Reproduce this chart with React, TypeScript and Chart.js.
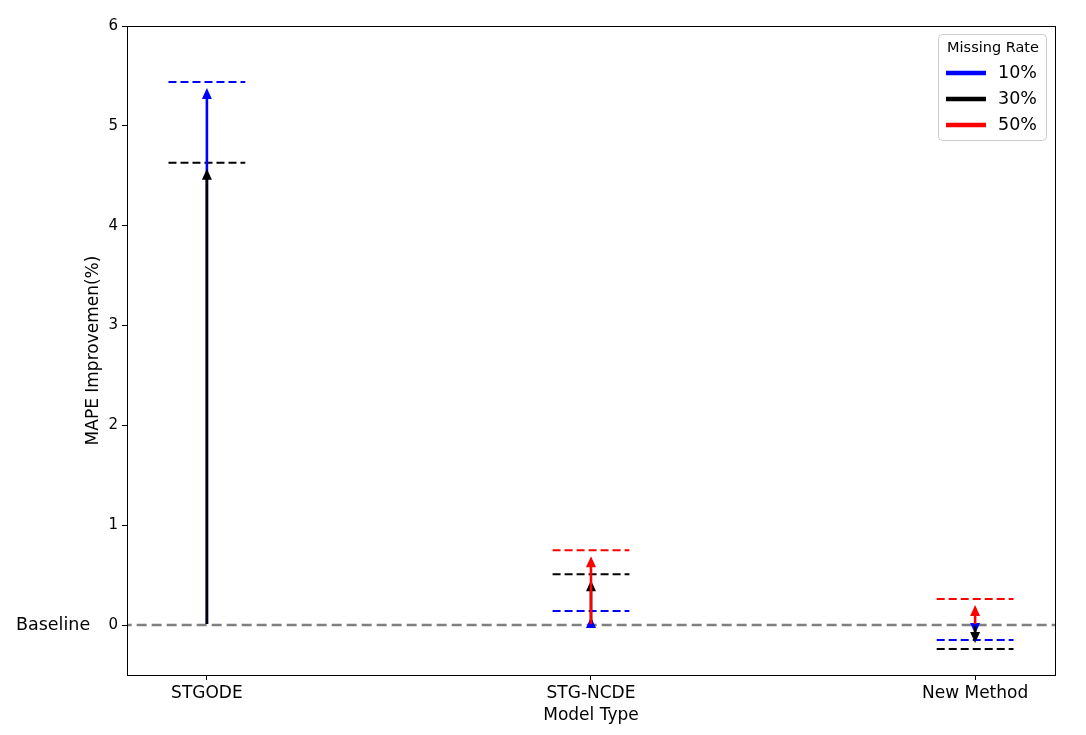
import React, { useEffect, useRef } from "react";
import { Chart, registerables } from "chart.js";

Chart.register(...registerables);

const categories = ["STGODE", "STG-NCDE", "New Method"];
const seriesLabels = ["10%", "30%", "50%"];
const seriesColors = ["#0000ff", "#000000", "#ff0000"];
const rate10 = [5.44, 0.14, -0.15];
const rate30 = [4.63, 0.51, -0.24];
const rate50: (number | null)[] = [null, 0.75, 0.26];
const seriesValues: (number | null)[][] = [rate10, rate30, rate50];
const yTicks = [0, 1, 2, 3, 4, 5, 6];

const FONT = "'DejaVu Sans', sans-serif";

export default function App() {
  const ref = useRef<HTMLCanvasElement>(null);
  useEffect(() => {
    document.body.style.margin = "0";
    const canvas = ref.current!;
    const half = 0.1;
    const datasets: any[] = seriesValues.map((vals, s) => {
      const data: any[] = [];
      vals.forEach((v, i) => {
        if (v === null) return;
        data.push({ x: i - half, y: v });
        data.push({ x: i + half, y: v });
        data.push({ x: i + 0.5, y: null });
      });
      return {
        label: seriesLabels[s],
        data,
        borderColor: seriesColors[s],
        backgroundColor: seriesColors[s],
        borderWidth: 2,
        borderDash: [8, 4],
        pointRadius: 0,
        showLine: true,
        spanGaps: false,
      };
    });
    datasets.push({
      label: "Baseline",
      data: [{ x: -0.3, y: 0 }, { x: 2.3, y: 0 }],
      borderColor: "#808080",
      borderWidth: 2.5,
      borderDash: [10, 5],
      pointRadius: 0,
      showLine: true,
    });

    const arrowPlugin = {
      id: "arrows",
      afterDatasetsDraw(chart: any) {
        const ctx = chart.ctx;
        const xs = chart.scales.x;
        const ys = chart.scales.y;
        const ca = chart.chartArea;
        ctx.save();
        ctx.beginPath();
        ctx.rect(ca.left, ca.top, ca.right - ca.left, ca.bottom - ca.top);
        ctx.clip();
        seriesValues.forEach((vals, s) => {
          vals.forEach((v, i) => {
            if (v === null) return;
            const x = xs.getPixelForValue(i);
            const y0 = ys.getPixelForValue(0);
            const y1 = ys.getPixelForValue(v);
            const dir = y1 < y0 ? -1 : 1;
            const start = y0 + dir * 1;
            const tip = y1 - dir * 6;
            const headLen = 11;
            const headW = 5;
            ctx.strokeStyle = seriesColors[s];
            ctx.fillStyle = seriesColors[s];
            ctx.lineWidth = 2.6;
            ctx.setLineDash([]);
            ctx.beginPath();
            ctx.moveTo(x, start);
            ctx.lineTo(x, tip - dir * headLen * 0.5);
            ctx.stroke();
            ctx.beginPath();
            ctx.moveTo(x, tip);
            ctx.lineTo(x - headW, tip - dir * headLen);
            ctx.lineTo(x + headW, tip - dir * headLen);
            ctx.closePath();
            ctx.fill();
          });
        });
        ctx.restore();
      },
      afterDraw(chart: any) {
        const ctx = chart.ctx;
        const ca = chart.chartArea;
        const ys = chart.scales.y;
        ctx.save();
        ctx.setLineDash([]);
        ctx.strokeStyle = "#000";
        ctx.lineWidth = 1;
        ctx.strokeRect(Math.round(ca.left) + 0.5, Math.round(ca.top) + 0.5, Math.round(ca.right - ca.left), Math.round(ca.bottom - ca.top));
        // Baseline label
        ctx.fillStyle = "#000";
        ctx.font = `17.5px ${FONT}`;
        ctx.textAlign = "left";
        ctx.textBaseline = "middle";
        ctx.fillText("Baseline", 16, ys.getPixelForValue(0));
        // legend
        const lx = 938, ly = 34, lw = 108, lh = 106;
        ctx.fillStyle = "rgba(255,255,255,0.8)";
        ctx.strokeStyle = "#cccccc";
        ctx.lineWidth = 1;
        ctx.beginPath();
        (ctx as any).roundRect(lx + 0.5, ly + 0.5, lw, lh, 4);
        ctx.fill();
        ctx.stroke();
        ctx.fillStyle = "#000";
        ctx.font = `14.5px ${FONT}`;
        ctx.textAlign = "center";
        ctx.fillText("Missing Rate", lx + lw / 2 + 1, ly + 14);
        seriesLabels.forEach((lab, s) => {
          const yy = ly + 39 + s * 26;
          ctx.strokeStyle = seriesColors[s];
          ctx.lineWidth = 4.5;
          ctx.beginPath();
          ctx.moveTo(lx + 8, yy);
          ctx.lineTo(lx + 48, yy);
          ctx.stroke();
          ctx.fillStyle = "#000";
          ctx.font = `17.5px ${FONT}`;
          ctx.textAlign = "left";
          ctx.fillText(lab, lx + 60, yy);
        });
        ctx.restore();
      },
    };

    const chart = new Chart(canvas, {
      type: "scatter",
      data: { datasets },
      plugins: [arrowPlugin],
      options: {
        animation: false,
        responsive: false,
        layout: { padding: { left: 83, right: 31, top: 26, bottom: 9 } },
        plugins: { legend: { display: false }, tooltip: { enabled: false } },
        scales: {
          x: {
            type: "linear",
            min: -0.208,
            max: 2.208,
            afterBuildTicks: (scale: any) => {
              scale.ticks = categories.map((_, i) => ({ value: i }));
            },
            afterFit: (scale: any) => {
              scale.height = 51;
            },
            ticks: {
              color: "#000",
              font: { family: FONT, size: 17 },
              padding: 3,
              maxRotation: 0,
              callback: (v: any) => categories[v] ?? "",
            },
            grid: { drawOnChartArea: false, tickLength: 5, color: "#000" },
            border: { display: false },
            title: {
              display: true,
              text: "Model Type",
              color: "#000",
              font: { family: FONT, size: 17 },
              padding: { top: 0, bottom: 0 },
            },
          },
          y: {
            type: "linear",
            min: -0.5,
            max: 6,
            afterBuildTicks: (scale: any) => {
              scale.ticks = yTicks.map((v) => ({ value: v }));
            },
            afterFit: (scale: any) => {
              scale.width = 44;
            },
            ticks: {
              color: "#000",
              font: { family: FONT, size: 15 },
              padding: 4,
            },
            grid: { drawOnChartArea: false, tickLength: 5, color: "#000" },
            border: { display: false },
            title: {
              display: true,
              text: "MAPE Improvemen(%)",
              color: "#000",
              font: { family: FONT, size: 17 },
              padding: { top: 0, bottom: 0 },
            },
          },
        },
      },
    });
    return () => chart.destroy();
  }, []);
  return <canvas ref={ref} width={1086} height={735} style={{ display: "block" }} />;
}
